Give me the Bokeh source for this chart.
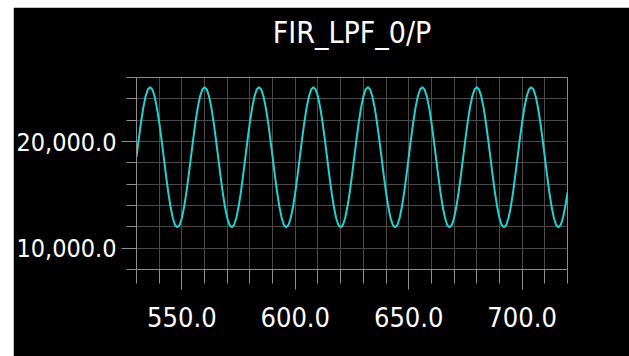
from bokeh.plotting import figure
from bokeh.embed import file_html
from bokeh.resources import INLINE
from bokeh.models import SingleIntervalTicker, NumeralTickFormatter, Range1d, Title

title_text = "FIR_LPF_0/P"

# sample index (x) and filter output (y)
sample_index = list(range(530, 721))
fir_output = [
    18525, 20227, 21813, 23174, 24219, 24876,
    25100, 24876, 24219, 23174, 21813, 20227, 18525, 16823, 15237, 13876, 12831, 12174,
    11950, 12174, 12831, 13876, 15237, 16823, 18525, 20227, 21813, 23174, 24219, 24876,
    25100, 24876, 24219, 23174, 21813, 20227, 18525, 16823, 15237, 13876, 12831, 12174,
    11950, 12174, 12831, 13876, 15237, 16823, 18525, 20227, 21813, 23174, 24219, 24876,
    25100, 24876, 24219, 23174, 21813, 20227, 18525, 16823, 15237, 13876, 12831, 12174,
    11950, 12174, 12831, 13876, 15237, 16823, 18525, 20227, 21813, 23174, 24219, 24876,
    25100, 24876, 24219, 23174, 21813, 20227, 18525, 16823, 15237, 13876, 12831, 12174,
    11950, 12174, 12831, 13876, 15237, 16823, 18525, 20227, 21813, 23174, 24219, 24876,
    25100, 24876, 24219, 23174, 21813, 20227, 18525, 16823, 15237, 13876, 12831, 12174,
    11950, 12174, 12831, 13876, 15237, 16823, 18525, 20227, 21813, 23174, 24219, 24876,
    25100, 24876, 24219, 23174, 21813, 20227, 18525, 16823, 15237, 13876, 12831, 12174,
    11950, 12174, 12831, 13876, 15237, 16823, 18525, 20227, 21813, 23174, 24219, 24876,
    25100, 24876, 24219, 23174, 21813, 20227, 18525, 16823, 15237, 13876, 12831, 12174,
    11950, 12174, 12831, 13876, 15237, 16823, 18525, 20227, 21813, 23174, 24219, 24876,
    25100, 24876, 24219, 23174, 21813, 20227, 18525, 16823, 15237, 13876, 12831, 12174,
    11950, 12174, 12831, 13876, 15237,
]

x_min, x_max = 530, 720
y_min, y_max = 8000, 26000

FONT = "'DejaVu Sans Condensed', 'Liberation Sans', sans-serif"
GRID = "#4a4a4a"
EDGE = "#8e8e8e"

p = figure(
    width=616, height=349,
    output_backend="svg", toolbar_location=None,
    x_range=Range1d(x_min, x_max), y_range=Range1d(y_min, y_max),
    background_fill_color="black", border_fill_color="black",
    min_border_left=123, min_border_right=62,
    min_border_top=70, min_border_bottom=87,
)
p.margin = (7, 0, 0, 13)

p.line(sample_index, fir_output, line_color="#22d2d2", line_width=2)

# blank gap between frame and title, then the title itself
p.add_layout(Title(text=" ", text_font_size="1px", standoff=25), "above")
p.add_layout(Title(
    text=title_text, align="center", vertical_align="bottom", standoff=0,
    text_font=FONT, text_font_size="30px", text_font_style="normal",
    text_color="white",
), "above")

p.outline_line_color = EDGE
p.outline_line_width = 1

# x axis
p.xaxis.ticker = SingleIntervalTicker(interval=50, num_minor_ticks=5)
p.xaxis.formatter = NumeralTickFormatter(format="0.0")
p.xaxis.major_tick_out = 20
p.xaxis.major_tick_in = 0
p.xaxis.minor_tick_out = 14
p.xaxis.minor_tick_in = 0
p.xaxis.major_label_standoff = 17

# y axis
p.yaxis.ticker = SingleIntervalTicker(interval=10000, num_minor_ticks=5)
p.yaxis.formatter = NumeralTickFormatter(format="0,0.0")
p.yaxis.major_tick_out = 15
p.yaxis.major_tick_in = 0
p.yaxis.minor_tick_out = 10
p.yaxis.minor_tick_in = 0
p.yaxis.major_label_standoff = 5

for ax in (p.xaxis, p.yaxis):
    ax.axis_line_color = EDGE
    ax.major_tick_line_color = EDGE
    ax.minor_tick_line_color = EDGE
    ax.major_label_text_color = "white"
    ax.major_label_text_font = FONT
p.xaxis.major_label_text_font_size = "27px"
p.yaxis.major_label_text_font_size = "25px"

p.xgrid.ticker = SingleIntervalTicker(interval=10)
p.ygrid.ticker = SingleIntervalTicker(interval=2000)
p.xgrid.grid_line_color = GRID
p.ygrid.grid_line_color = GRID

open("out.html", "w").write(file_html(p, INLINE))
